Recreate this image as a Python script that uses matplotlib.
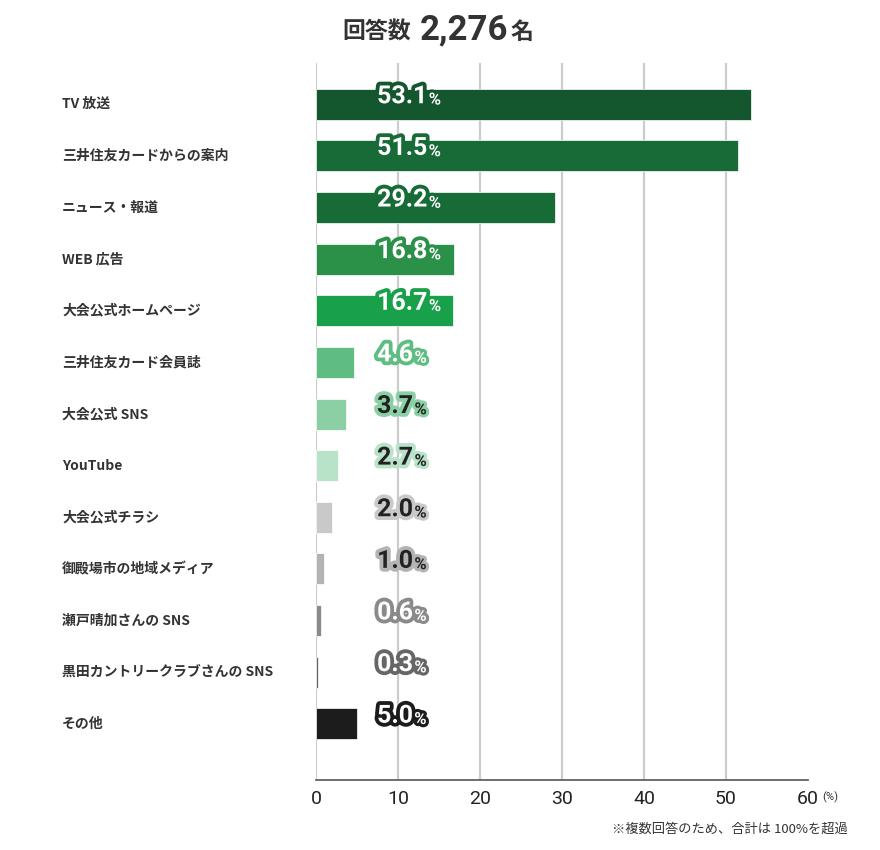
import matplotlib
matplotlib.use("Agg")
import matplotlib.pyplot as plt
import matplotlib.patheffects as pe
import matplotlib.transforms as mtransforms

plt.rcParams['font.family'] = ['Noto Sans CJK JP', 'DejaVu Sans']

# データ
categories = [
    "TV 放送", "三井住友カードからの案内", "ニュース・報道", "WEB 広告",
    "大会公式ホームページ", "三井住友カード会員誌", "大会公式 SNS", "YouTube",
    "大会公式チラシ", "御殿場市の地域メディア", "瀬戸晴加さんの SNS",
    "黒田カントリークラブさんの SNS", "その他",
]
values = [53.1, 51.5, 29.2, 16.8, 16.7, 4.6, 3.7, 2.7, 2.0, 1.0, 0.6, 0.3, 5.0]
bar_colors = ["#14572f", "#186a37", "#166b36", "#2b9048", "#19a04b", "#5fbd82",
              "#8bd0a5", "#b9e3c9", "#c9c9c9", "#b3b3b3", "#8a8a8a", "#666666", "#1c1c1c"]
text_colors = ["white"] * 6 + ["#222222"] * 4 + ["white"] * 3
x_ticks = [0, 10, 20, 30, 40, 50, 60]
respondents = "2,276"

fig = plt.figure(figsize=(8.8, 8.5), dpi=100)
ax = fig.add_axes([316 / 880, 70 / 850, 492 / 880, 717 / 850])

ypos = list(range(len(values)))
ax.barh(ypos, values, height=0.6, color=bar_colors, edgecolor="white", linewidth=0.5, zorder=3)

ax.set_xlim(0, 60)
ax.set_ylim(len(values) - 1 + 1.09, -0.8)

for x in x_ticks[:-1]:
    ax.axvline(x, color="#cccccc", lw=1.6, zorder=1)

for s in ["top", "right", "left"]:
    ax.spines[s].set_visible(False)
ax.spines["bottom"].set_color("#555555")
ax.spines["bottom"].set_linewidth(1.2)
ax.spines["bottom"].set_zorder(4)

ax.set_xticks(x_ticks)
ax.set_xticklabels([str(t) for t in x_ticks], fontsize=14, color="#222222",
                   family=["Roboto", "DejaVu Sans"])
ax.tick_params(axis="x", length=0, pad=7)
ax.set_yticks([])

ax.text(822 / 880, 1 - 797 / 850, "(%)", transform=fig.transFigure, fontsize=8,
        color="#333333", ha="left", va="center", family=["Roboto", "DejaVu Sans"])

# カテゴリ名
label_trans = mtransforms.blended_transform_factory(fig.transFigure, ax.transData)
for i, name in enumerate(categories):
    fig.text(62 / 880, i, name, fontsize=10, fontweight="bold", color="#333333",
             ha="left", va="center", transform=label_trans)

# 値ラベル
for i, v in enumerate(values):
    fx = [pe.withStroke(linewidth=5.5, foreground=bar_colors[i])]
    t = ax.text(7.45, i - 0.02, f"{v:.1f}", fontsize=18, fontweight="bold",
                color=text_colors[i], ha="left", va="baseline", zorder=5,
                family=["Roboto", "DejaVu Sans"], path_effects=fx)
    ax.annotate("%", xy=(1, 0), xycoords=t, xytext=(1, 0.5), textcoords="offset points",
                fontsize=12, fontweight="bold", color=text_colors[i],
                ha="left", va="bottom", zorder=5,
                family=["Roboto", "DejaVu Sans"],
                path_effects=[pe.withStroke(linewidth=4.5, foreground=bar_colors[i])])

# タイトル（横に並べる）
title_y = 1 - 39 / 850
renderer = fig.canvas.get_renderer()
t1 = fig.text(342 / 880, title_y, "回答数", fontsize=16.5, fontweight="bold",
              color="#333333", ha="left", va="baseline")
x_next = t1.get_window_extent(renderer).x1 + 9
t2 = fig.text(x_next / 880, title_y, respondents, fontsize=25, fontweight="bold",
              color="#333333", ha="left", va="baseline", family=["Roboto", "DejaVu Sans"])
x_next = t2.get_window_extent(renderer).x1 + 2
fig.text(x_next / 880, title_y, "名", fontsize=16.5, fontweight="bold",
         color="#333333", ha="left", va="baseline")

fig.text(848 / 880, 1 - 829 / 850, "※複数回答のため、合計は 100%を超過", fontsize=9.5,
         color="#333333", ha="right", va="center")

fig.savefig("out.png", dpi=100)
